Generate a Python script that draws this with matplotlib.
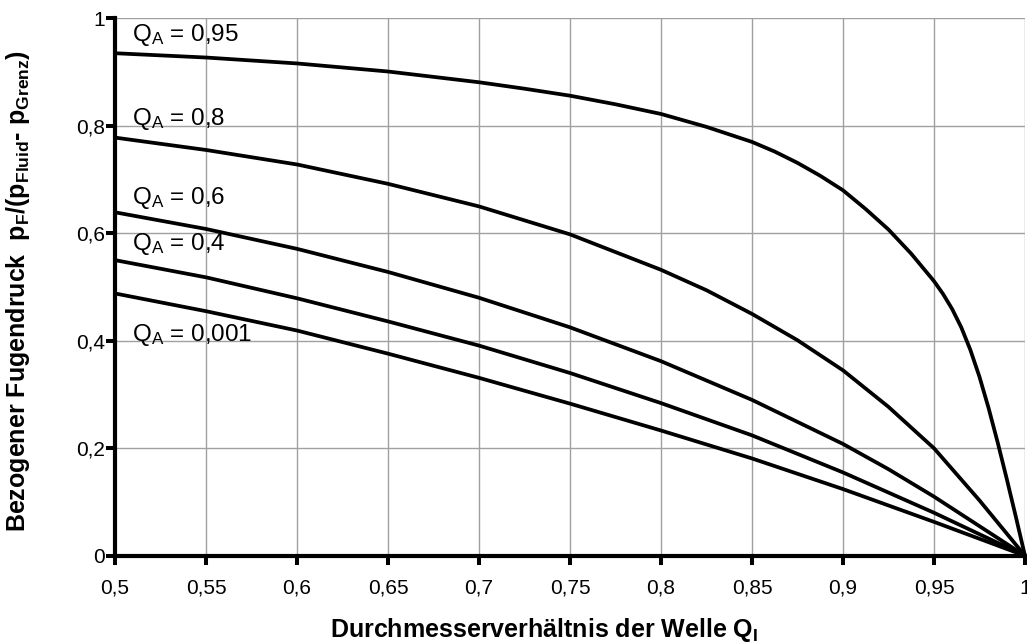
import matplotlib
matplotlib.use("Agg")
import matplotlib.pyplot as plt

plt.rcParams['font.family'] = ['Liberation Sans', 'DejaVu Sans']
plt.rcParams['mathtext.fontset'] = 'custom'
plt.rcParams['mathtext.rm'] = 'Liberation Sans'
plt.rcParams['mathtext.bf'] = 'Liberation Sans:bold'
plt.rcParams['mathtext.it'] = 'Liberation Sans:italic'
plt.rcParams['mathtext.default'] = 'rm'

# Data
x_common = [0.5, 0.55, 0.6, 0.65, 0.7, 0.75, 0.8, 0.85, 0.9, 0.95, 1.0]
q_001 = [0.488, 0.455, 0.419, 0.376, 0.331, 0.283, 0.233, 0.181, 0.124, 0.063, 0.0]
q_04 = [0.550, 0.518, 0.479, 0.436, 0.391, 0.340, 0.284, 0.224, 0.155, 0.080, 0.0]
x_06 = [0.5, 0.55, 0.6, 0.65, 0.7, 0.75, 0.8, 0.85, 0.9, 0.925, 0.95, 1.0]
q_06 = [0.639, 0.608, 0.571, 0.528, 0.480, 0.425, 0.362, 0.290, 0.208, 0.161, 0.110, 0.0]
x_08 = [0.5, 0.55, 0.6, 0.65, 0.7, 0.75, 0.8, 0.825, 0.85, 0.875, 0.9, 0.925,
        0.95, 0.975, 1.0]
q_08 = [0.778, 0.755, 0.728, 0.692, 0.650, 0.598, 0.532, 0.494, 0.450, 0.401, 0.345, 0.277,
        0.200, 0.103, 0.0]
x_095 = [0.5, 0.55, 0.6, 0.65, 0.7, 0.725, 0.75, 0.775, 0.8, 0.825, 0.85, 0.8625, 0.875,
         0.8875, 0.9, 0.9125, 0.925, 0.9375, 0.95, 0.955, 0.96, 0.965, 0.97, 0.975, 0.98,
         0.985, 0.99, 0.995, 1.0]
q_095 = [0.935, 0.927, 0.916, 0.901, 0.881, 0.869, 0.856, 0.840, 0.822, 0.798, 0.770,
         0.752, 0.731, 0.707, 0.680, 0.645, 0.607, 0.562, 0.511, 0.487, 0.459, 0.425,
         0.383, 0.333, 0.275, 0.211, 0.143, 0.0725, 0.0]

labels = ['$Q_A$ = 0,95', '$Q_A$ = 0,8', '$Q_A$ = 0,6', '$Q_A$ = 0,4', '$Q_A$ = 0,001']
label_y = [0.957, 0.802, 0.654, 0.568, 0.400]

x_ticks = [0.5, 0.55, 0.6, 0.65, 0.7, 0.75, 0.8, 0.85, 0.9, 0.95, 1.0]
x_ticklabels = ['0,5', '0,55', '0,6', '0,65', '0,7', '0,75', '0,8', '0,85', '0,9', '0,95', '1']
y_ticks = [0, 0.2, 0.4, 0.6, 0.8, 1.0]
y_ticklabels = ['0', '0,2', '0,4', '0,6', '0,8', '1']

fig = plt.figure(figsize=(10.27, 6.42), dpi=100)
ax = fig.add_axes([0.112, 0.1344, 0.886, 0.8371])

series = [(x_095, q_095), (x_08, q_08), (x_06, q_06), (x_common, q_04), (x_common, q_001)]
for xs, ys in series:
    ax.plot(xs, ys, color='black', lw=2.7, solid_joinstyle='round', solid_capstyle='round',
            clip_on=False, zorder=3)

for lab, ly in zip(labels, label_y):
    ax.text(0.5093, ly, lab, fontsize=17.5, va='baseline', ha='left', zorder=4)

ax.set_xlim(0.5, 1.0)
ax.set_ylim(0, 1.0)
ax.set_xticks(x_ticks)
ax.set_xticklabels(x_ticklabels)
ax.set_yticks(y_ticks)
ax.set_yticklabels(y_ticklabels)
ax.grid(True, color='#a0a0a0', lw=1.0)
ax.set_axisbelow(True)

for s in ['top', 'right']:
    ax.spines[s].set_visible(False)
for s in ['left', 'bottom']:
    ax.spines[s].set_linewidth(3.0)
    ax.spines[s].set_color('black')
    ax.spines[s].set_zorder(5)
ax.tick_params(axis='both', direction='out', length=6.5, width=2.9, labelsize=15, color='black')
ax.tick_params(axis='x', pad=10)
ax.tick_params(axis='y', pad=0.5)

fig.text(544 / 1027, 5 / 642, 'Durchmesserverhältnis der Welle $\\mathbf{Q_I}$',
         fontsize=18, fontweight='bold', ha='center', va='baseline')
fig.text(18 / 1027, 1 - 291 / 642,
         'Bezogener Fugendruck  $\\mathbf{p_F}$/($\\mathbf{p_{Fluid}}$- $\\mathbf{p_{Grenz}}$)',
         fontsize=18, fontweight='bold', ha='center', va='center', rotation=90)

fig.savefig('out.png', dpi=100)
